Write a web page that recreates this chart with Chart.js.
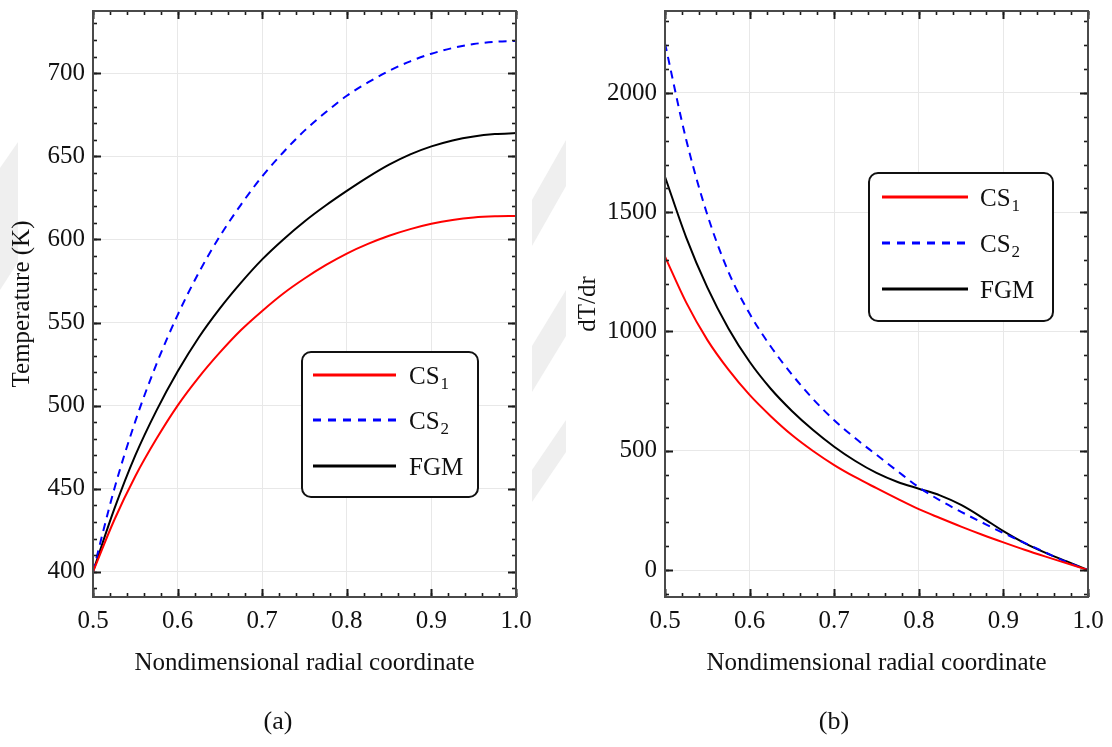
<!DOCTYPE html>
<html>
<head>
<meta charset="utf-8">
<title>Temperature and gradient profiles</title>
<script src="https://cdn.jsdelivr.net/npm/chart.js@4.4.1/dist/chart.umd.min.js"></script>
<style>
  html, body { margin: 0; padding: 0; background: #ffffff; }
  #wrap { position: relative; width: 1112px; height: 747px; overflow: hidden;
          font-family: "Liberation Serif", "Times New Roman", serif; }
  #marks { position: absolute; left: 0; top: 0; }
  .panel { position: absolute; top: 0; width: 556px; height: 747px; }
  #panelA { left: 0; }
  #panelB { left: 556px; }
  .cap { position: absolute; top: 703px; width: 80px; margin-left: -40px; text-align: center;
         font-size: 26px; line-height: 36px; color: #111; }
</style>
</head>
<body>
<div id="wrap">
  <svg id="marks" width="1112" height="747">
    <g fill="#efefef">
      <polygon points="0,168 18,142 18,262 0,290"/>
      <polygon points="532,246 532,200 566,140 566,186"/>
      <polygon points="532,392 532,346 566,290 566,336"/>
      <polygon points="532,502 532,470 566,420 566,452"/>
    </g>
  </svg>
  <div class="panel" id="panelA"><canvas id="chartA" width="556" height="747"></canvas></div>
  <div class="panel" id="panelB"><canvas id="chartB" width="556" height="747"></canvas></div>
  <div class="cap" style="left:278px">(a)</div>
  <div class="cap" style="left:834px">(b)</div>
</div>
<script>
// Nondimensional radial coordinate
const radius = [0.5, 0.525, 0.55, 0.575, 0.6, 0.625, 0.65, 0.675, 0.7, 0.725, 0.75,
                0.775, 0.8, 0.825, 0.85, 0.875, 0.9, 0.925, 0.95, 0.975, 1.0];

// Temperature (K)
const tempCS1 = [400, 431, 457.5, 480, 500, 517, 532, 545.5, 557, 567.5, 576.5,
                 584.5, 591.5, 597.3, 602.2, 606.2, 609.4, 611.7, 613.2, 613.9, 614.1];
const tempCS2 = [400, 449.5, 490.5, 525, 554.5, 580, 602, 621, 638, 652.5, 665.5,
                 676.5, 686.5, 694.5, 701.5, 707.2, 711.8, 715.2, 717.6, 719.0, 719.5];
const tempFGM = [400, 437.5, 470, 497, 520.5, 541, 558.5, 574, 588, 600, 610.8,
                 620.4, 629.2, 637.5, 645, 651.2, 656, 659.6, 662, 663.4, 664];

// Temperature gradient dT/dr
const gradCS1 = [1314, 1122, 965, 840, 734, 645, 566, 499, 440, 389, 343,
                 298, 255, 218, 182, 148, 116, 85, 56, 28, 0];
const gradCS2 = [2208, 1805, 1490, 1250, 1075, 937, 820, 717, 628, 552, 483,
                 414, 347, 292, 244, 199, 155, 114, 73, 33, 0];
const gradFGM = [1649, 1395, 1185, 1013, 873, 760, 667, 587, 517, 457, 407,
                 369, 341, 313, 273, 220, 163, 113, 72, 36, 0];

const seriesLabels = ['CS1', 'CS2', 'FGM'];
const legendText = [['CS', '1'], ['CS', '2'], ['FGM', '']];
const seriesColors = ['#ff0000', '#0000ff', '#000000'];
const seriesDash = [[], [8, 6], []];

const xTicks = [0.5, 0.6, 0.7, 0.8, 0.9, 1.0];
const tempTicks = [400, 450, 500, 550, 600, 650, 700];
const gradTicks = [0, 500, 1000, 1500, 2000];

const SERIF = '"Liberation Serif", "Times New Roman", serif';

function makeDatasets(seriesValues) {
  return seriesValues.map((vals, k) => ({
    label: seriesLabels[k],
    data: vals.map((v, i) => ({ x: radius[i], y: v })),
    borderColor: seriesColors[k],
    backgroundColor: seriesColors[k],
    borderWidth: 2,
    borderDash: seriesDash[k],
    pointRadius: 0,
    cubicInterpolationMode: 'monotone',
    fill: false
  }));
}

// Inward major/minor ticks on all four sides plus the frame
const frameTicks = {
  id: 'frameTicks',
  afterDatasetsDraw(chart, args, opts) {
    const { ctx, chartArea: a } = chart;
    const x = chart.scales.x, y = chart.scales.y;
    ctx.save();
    ctx.strokeStyle = '#1a1a1a';
    const seg = (x0, y0, x1, y1) => { ctx.beginPath(); ctx.moveTo(x0, y0); ctx.lineTo(x1, y1); ctx.stroke(); };
    const eps = 1e-9;
    const tickX = (v, len) => {
      const p = Math.round(x.getPixelForValue(v)) + 0.5;
      seg(p, a.bottom, p, a.bottom - len);
      seg(p, a.top, p, a.top + len);
    };
    const tickY = (v, len) => {
      const p = Math.round(y.getPixelForValue(v)) + 0.5;
      seg(a.left, p, a.left + len, p);
      seg(a.right, p, a.right - len, p);
    };
    ctx.lineWidth = 1.6;
    for (let i = 0; ; i++) {
      const v = opts.xMinorStart + i * opts.xMinor;
      if (v > x.max + eps) break;
      tickX(v, 4);
    }
    for (let i = 0; ; i++) {
      const v = opts.yMinorStart + i * opts.yMinor;
      if (v > y.max + eps) break;
      if (v >= y.min - eps) tickY(v, 4);
    }
    ctx.lineWidth = 2;
    xTicks.forEach(v => tickX(v, 8));
    opts.yMajor.forEach(v => tickY(v, 8));
    ctx.strokeStyle = '#4a4a4a';
    ctx.lineWidth = 2;
    ctx.strokeRect(a.left, a.top, a.right - a.left, a.bottom - a.top);
    ctx.restore();
  }
};

// Rounded legend box with long line samples and subscripted names
const boxedLegend = {
  id: 'boxedLegend',
  afterDraw(chart, args, opts) {
    const ctx = chart.ctx;
    const [bx, by, bw, bh] = opts.box;
    ctx.save();
    ctx.fillStyle = '#ffffff';
    ctx.strokeStyle = '#111111';
    ctx.lineWidth = 2;
    ctx.beginPath();
    ctx.roundRect(bx, by, bw, bh, 9);
    ctx.fill();
    ctx.stroke();
    chart.data.datasets.forEach((ds, k) => {
      const ry = opts.rows[k];
      ctx.strokeStyle = ds.borderColor;
      ctx.lineWidth = 3.2;
      ctx.setLineDash(k === 1 ? [8, 7] : []);
      ctx.beginPath();
      ctx.moveTo(opts.line[0], ry);
      ctx.lineTo(opts.line[1], ry);
      ctx.stroke();
      ctx.setLineDash([]);
      const [base, sub] = legendText[k];
      ctx.fillStyle = '#111111';
      ctx.textAlign = 'left';
      ctx.textBaseline = 'alphabetic';
      ctx.font = '25px ' + SERIF;
      ctx.fillText(base, opts.textX, ry + 9);
      if (sub) {
        const w = ctx.measureText(base).width;
        ctx.font = '17px ' + SERIF;
        ctx.fillText(sub, opts.textX + w + 1, ry + 14);
      }
    });
    ctx.restore();
  }
};

function buildChart(canvasId, seriesValues, cfg) {
  return new Chart(document.getElementById(canvasId), {
    type: 'line',
    data: { datasets: makeDatasets(seriesValues) },
    plugins: [frameTicks, boxedLegend],
    options: {
      responsive: false,
      animation: false,
      events: [],
      layout: { padding: { left: 0, right: cfg.padRight, top: 11, bottom: 0 } },
      plugins: {
        legend: { display: false },
        tooltip: { enabled: false },
        frameTicks: cfg.frame,
        boxedLegend: cfg.legend
      },
      scales: {
        x: {
          type: 'linear',
          min: 0.5,
          max: 1.0,
          afterBuildTicks: s => { s.ticks = xTicks.map(v => ({ value: v })); },
          afterFit: s => { s.height = 150; s.paddingLeft = 0; s.paddingRight = 0; },
          grid: { color: '#e8e8e8', lineWidth: 1, drawTicks: false },
          border: { display: false },
          ticks: {
            padding: 9,
            color: '#111',
            font: { family: SERIF, size: 25 },
            maxRotation: 0,
            callback: v => Number(v).toFixed(1)
          },
          title: {
            display: true,
            text: 'Nondimensional radial coordinate',
            color: '#111',
            font: { family: SERIF, size: 25 },
            padding: { top: 0, bottom: 69 }
          }
        },
        y: {
          type: 'linear',
          min: cfg.yMin,
          max: cfg.yMax,
          afterBuildTicks: s => { s.ticks = cfg.yTicks.map(v => ({ value: v })); },
          afterFit: s => { s.width = cfg.axisWidth; s.paddingTop = 0; s.paddingBottom = 0; },
          grid: { color: '#e8e8e8', lineWidth: 1, drawTicks: false },
          border: { display: false },
          ticks: {
            padding: 8,
            color: '#111',
            font: { family: SERIF, size: 25 },
            callback: v => String(v)
          },
          title: {
            display: true,
            text: cfg.yTitle,
            color: '#111',
            font: { family: SERIF, size: 25 },
            padding: { top: cfg.titleGap, bottom: 0 }
          }
        }
      }
    }
  });
}

buildChart('chartA', [tempCS1, tempCS2, tempFGM], {
  padRight: 40,
  axisWidth: 93,
  yMin: 384.8,
  yMax: 737.5,
  yTicks: tempTicks,
  yTitle: 'Temperature (K)',
  titleGap: 7,
  frame: { xMinor: 0.02, xMinorStart: 0.5, yMinor: 10, yMinorStart: 390, yMajor: tempTicks },
  legend: { box: [302, 352, 176, 145], rows: [375, 420, 466], line: [313, 396], textX: 409 }
});

buildChart('chartB', [gradCS1, gradCS2, gradFGM], {
  padRight: 24,
  axisWidth: 109,
  yMin: -113.2,
  yMax: 2343.8,
  yTicks: gradTicks,
  yTitle: 'dT/dr',
  titleGap: 17,
  frame: { xMinor: 0.02, xMinorStart: 0.5, yMinor: 100, yMinorStart: -100, yMajor: gradTicks },
  legend: { box: [313, 173, 184, 148], rows: [197, 243, 289], line: [326, 412], textX: 424 }
});
</script>
</body>
</html>
